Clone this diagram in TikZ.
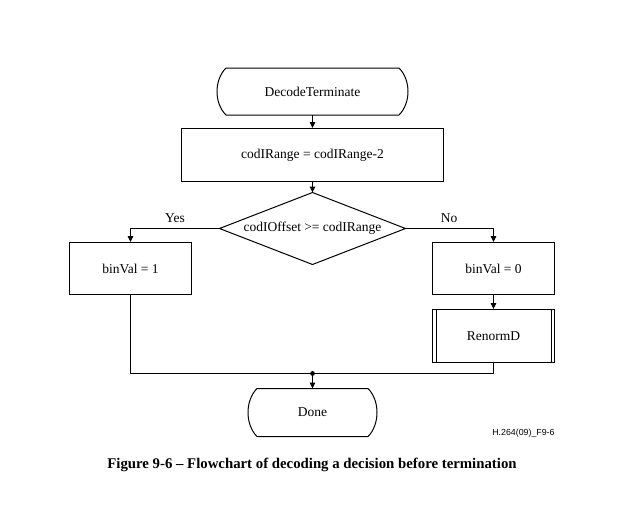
\documentclass[tikz,border=0pt]{standalone}
\usepackage{fontspec}
\setmainfont{Liberation Serif}
\newfontfamily\figsans{Liberation Sans}
\usetikzlibrary{arrows.meta,calc}
\begin{document}
\begin{tikzpicture}[x=1pt,y=-1pt,
  line width=1pt,
  every node/.style={font=\fontsize{13.5}{15}\selectfont},
  boxnode/.style={draw,rectangle,inner sep=0pt},
  plainnode/.style={inner sep=0pt},
  arr/.style={-{Triangle[length=6pt,width=5.5pt]}},
  lbl/.style={font=\fontsize{13.5}{15}\selectfont,inner sep=1pt}]
\useasboundingbox (0,0) rectangle (621,504);
% nodes
\node[plainnode,minimum width=188pt,minimum height=46pt] (dt) at (312.5,91.5) {DecodeTerminate};
\node[boxnode,minimum width=262pt,minimum height=53pt] (cr) at (312.5,155) {codIRange = codIRange-2};
\node[plainnode,minimum width=185pt,minimum height=71pt] (dia) at (312.5,228.5) {codIOffset >= codIRange};
\node[boxnode,minimum width=122pt,minimum height=52pt] (b1) at (130.5,268.5) {binVal = 1};
\node[boxnode,minimum width=122pt,minimum height=52pt] (b0) at (493.5,268.5) {binVal = 0};
\node[boxnode,minimum width=122pt,minimum height=53pt] (rn) at (493.5,336) {RenormD};
\node[plainnode,minimum width=126pt,minimum height=47pt] (dn) at (312.5,412.5) {Done};
\coordinate (j) at (312.5,373.5);
% terminal outlines
\draw ($(dt.north west)+(8,0)$) -- ($(dt.north east)+(-8,0)$)
  .. controls ($(dt.north east)+(4,12)$) and ($(dt.south east)+(4,-12)$) .. ($(dt.south east)+(-8,0)$)
  -- ($(dt.south west)+(8,0)$)
  .. controls ($(dt.south west)+(-4,-12)$) and ($(dt.north west)+(-4,12)$) .. cycle;
\draw ($(dn.north west)+(8,0)$) -- ($(dn.north east)+(-8,0)$)
  .. controls ($(dn.north east)+(4,12)$) and ($(dn.south east)+(4,-12)$) .. ($(dn.south east)+(-8,0)$)
  -- ($(dn.south west)+(8,0)$)
  .. controls ($(dn.south west)+(-4,-12)$) and ($(dn.north west)+(-4,12)$) .. cycle;
% diamond outline
\draw (dia.north) -- (dia.east) -- (dia.south) -- (dia.west) -- cycle;
% predefined process inner lines
\draw ($(rn.north west)+(4,0)$) -- ($(rn.south west)+(4,0)$);
\draw ($(rn.north east)+(-4,0)$) -- ($(rn.south east)+(-4,0)$);
% connectors
\draw[arr] (dt.south) -- (cr.north);
\draw[arr] (cr.south) -- (dia.north);
\draw[arr] (dia.west) -| (b1.north);
\draw[arr] (dia.east) -| (b0.north);
\draw[arr] (b0.south) -- (rn.north);
\draw (b1.south) |- (j);
\draw (rn.south) |- (j);
\draw[arr] (j) -- (dn.north);
\fill (j) circle (2.4pt);
% labels
\node[lbl] (yes) at (175,218) {Yes};
\node[lbl] (no) at (449,218) {No};
\node[inner sep=0pt,anchor=east,font=\figsans\fontsize{8.8}{10}\selectfont] (tag) at (555,433) {H.264(09)\_F9-6};
\node[inner sep=0pt,font=\fontsize{14.8}{17}\selectfont\bfseries] (cap) at (312,465) {Figure 9-6 – Flowchart of decoding a decision before termination};
\end{tikzpicture}
\end{document}
